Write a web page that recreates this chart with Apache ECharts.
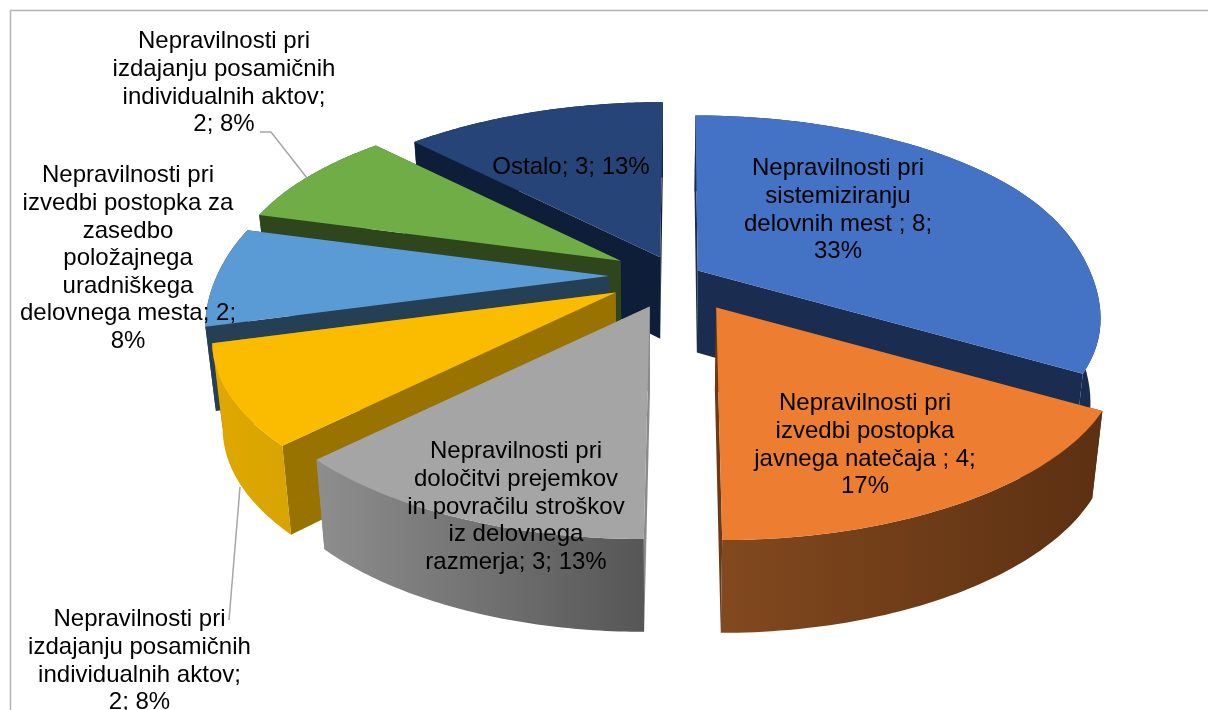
<!DOCTYPE html>
<html>
<head>
<meta charset="utf-8">
<title>Nepravilnosti</title>
<script src="https://cdn.jsdelivr.net/npm/echarts@6/dist/echarts.min.js"></script>
<style>
    html, body { margin: 0; padding: 0; background: #fff; }
    #chart { width: 1208px; height: 710px; }
</style>
</head>
<body>
<div id="chart"></div>
<script>
// data, clockwise from 12 o'clock
var categories = [
    'Nepravilnosti pri sistemiziranju delovnih mest ',
    'Nepravilnosti pri izvedbi postopka javnega natečaja ',
    'Nepravilnosti pri določitvi prejemkov in povračilu stroškov iz delovnega razmerja',
    'Nepravilnosti pri izdajanju posamičnih individualnih aktov',
    'Nepravilnosti pri izvedbi postopka za zasedbo položajnega uradniškega delovnega mesta',
    'Nepravilnosti pri izdajanju posamičnih individualnih aktov',
    'Ostalo'
];
var values = [8, 4, 3, 2, 2, 2, 3];
var percents = [33, 17, 13, 8, 8, 8, 13];

// style of each slice
var capColors = ['#4472C4', '#ED7D31', '#A5A5A5', '#FBBC00', '#5B9BD5', '#70AD47', '#264478'];
var cutColors = ['#1A2C50', '#6A3A16', '#8A8A8A', '#997300', '#253F55', '#2F461C', '#0F1E38'];
var wallStops = [
    ['#1A2C50', '#1A2C50'],
    ['#82491E', '#5C3012'],
    ['#8E8E8E', '#565656'],
    ['#E0A800', '#D8A400'],
    ['#253F55', '#253F55'],
    ['#2F461C', '#2F461C'],
    ['#0F1E38', '#0F1E38']
];
var explode = [0.066, 0.162, 0.145, 0.16, 0.174, 0.18, 0.13];
// back to front
var paintOrder = [6, 0, 5, 4, 3, 2, 1];

// line breaks and centres of the data labels
var labelLines = [
    ['Nepravilnosti pri', 'sistemiziranju', 'delovnih mest ; 8;', '33%'],
    ['Nepravilnosti pri', 'izvedbi postopka', 'javnega natečaja ; 4;', '17%'],
    ['Nepravilnosti pri', 'določitvi prejemkov', 'in povračilu stroškov', 'iz delovnega', 'razmerja; 3; 13%'],
    ['Nepravilnosti pri', 'izdajanju posamičnih', 'individualnih aktov;', '2; 8%'],
    ['Nepravilnosti pri', 'izvedbi postopka za', 'zasedbo', 'položajnega', 'uradniškega', 'delovnega mesta; 2;', '8%'],
    ['Nepravilnosti pri', 'izdajanju posamičnih', 'individualnih aktov;', '2; 8%'],
    ['Ostalo; 3; 13%']
];
var labelPos = [[838, 155], [865, 390], [516, 438], [139.5, 606], [128, 162], [224, 28], [571, 154]];

// pie geometry
var centerX = 677, centerY = 276;
var radiusX = 400, radiusY = 186, persp = 0.2;
var leanX = 680, lean = 0.8, leanMax = 30;

function project(deg) {
    var a = deg * Math.PI / 180;
    var s = 1 / (1 + persp * Math.cos(a));
    var sin = Math.sin(a);
    // the sides of the reference ellipse are a little flatter
    var flat = 1 - 0.02 * Math.pow(Math.abs(sin), 12);
    return [radiusX * sin * s * flat, -radiusY * Math.cos(a) * s, s];
}

// the same point at the bottom of the pie
function lower(p) {
    return [660 + (p[0] - 660) * 0.977, p[1] + 82 + (p[1] - 270) * 0.04];
}

var total = values.reduce(function (a, b) { return a + b; }, 0);

function renderSlice(params) {
    var i = params.dataIndex;
    var before = values.slice(0, i).reduce(function (a, b) { return a + b; }, 0);
    var start = before / total * 360;
    var end = (before + values[i]) / total * 360;
    var dir = project((start + end) / 2);
    var apex = [centerX + explode[i] * dir[0], centerY + explode[i] * dir[1]];
    var off = Math.max(-leanMax, Math.min(leanMax, apex[0] - leanX));

    var arc = [];
    var steps = 60;
    for (var k = 0; k <= steps; k++) {
        var p = project(start + (end - start) * k / steps);
        // edges of an exploded slice lean towards the vanishing point
        arc.push([apex[0] + p[0] + off * (p[2] - 1) * lean, apex[1] + p[1]]);
    }
    var arcLow = arc.map(lower).reverse();
    var first = arc[0], last = arc[steps];
    var z = paintOrder.indexOf(i) * 10 + 1;

    var children = [
        { type: 'polygon', z2: z, shape: { points: [apex, first, lower(first), lower(apex)] }, style: { fill: cutColors[i] } },
        { type: 'polygon', z2: z, shape: { points: [apex, last, lower(last), lower(apex)] }, style: { fill: cutColors[i] } },
        {
            type: 'polygon', z2: z + 1, shape: { points: arc.concat(arcLow) },
            style: {
                fill: {
                    type: 'linear', x: 0, y: 0, x2: 1, y2: 0,
                    colorStops: [{ offset: 0, color: wallStops[i][0] }, { offset: 1, color: wallStops[i][1] }]
                }
            }
        },
        { type: 'polygon', z2: z + 2, shape: { points: [apex].concat(arc) }, style: { fill: capColors[i] } },
        {
            type: 'text', z2: 500,
            style: {
                text: labelLines[i].join('\n'),
                x: labelPos[i][0], y: labelPos[i][1],
                align: 'center', verticalAlign: 'top',
                fontFamily: '"Liberation Sans", Arial, sans-serif',
                fontSize: 24, lineHeight: 27.6, fill: '#000'
            }
        }
    ];
    return { type: 'group', children: children };
}

var myChart = echarts.init(document.getElementById('chart'));

var option = {
    backgroundColor: '#fff',
    animation: false,
    // chart frame and the two leader lines
    graphic: [
        { type: 'polyline', z: 5, shape: { points: [[10.5, 710], [10.5, 10.5], [1208, 10.5]] }, style: { fill: null, stroke: '#B4B4B4', lineWidth: 1.5 } },
        { type: 'polyline', z: 5, shape: { points: [[260, 132], [271, 132], [307, 178]] }, style: { fill: null, stroke: '#A6A6A6', lineWidth: 1.5 } },
        { type: 'polyline', z: 5, shape: { points: [[229, 620], [240, 487]] }, style: { fill: null, stroke: '#A6A6A6', lineWidth: 1.5 } }
    ],
    series: [{
        type: 'custom',
        coordinateSystem: 'none',
        silent: true,
        clip: false,
        renderItem: renderSlice,
        data: values.map(function (v, i) {
            return { name: categories[i], value: [v, percents[i]] };
        })
    }]
};

myChart.setOption(option);
</script>
</body>
</html>
